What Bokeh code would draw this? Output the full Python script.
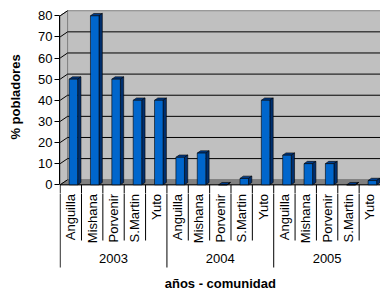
import numpy as np
from bokeh.plotting import figure
from bokeh.models import Range1d, FixedTicker
from bokeh.layouts import column
from bokeh.embed import file_html
from bokeh.resources import INLINE
from bokeh.core.properties import value

# ---- data ----
years = ["2003", "2004", "2005"]
communities = ["Anguilla", "Mishana", "Porvenir", "S.Martin", "Yuto"]
values_2003 = [50, 80, 50, 40, 40]
values_2004 = [13, 15, 0, 3, 40]
values_2005 = [14, 10, 10, 0, 2]
y_ticks = [0, 10, 20, 30, 40, 50, 60, 70, 80]
y_title = "% pobladores"
x_title = "años - comunidad"

FONT = "Liberation Sans"
vals = np.array(values_2003 + values_2004 + values_2005, dtype=float)
labels = communities * len(years)
n = len(vals)
idx = np.arange(n)
ymax = max(y_ticks)

# ---- style / geometry constants ----
DX, DY = 0.35, 2.4          # 3D depth offset (axis units)
SX, SY = 0.155, 1.1         # bar side depth
BL, BR = 0.42, 0.82         # bar front face within category
WALL = "#C0C0C0"
FLOOR = "#808080"
FRONT = "#0066CC"
SIDE = "#002F6E"
TOP = "#003C8A"

x_range = Range1d(-0.03, n)

p1 = figure(width=380, height=193, x_range=x_range, y_range=Range1d(-4.12, 87.24),
            output_backend="svg", toolbar_location=None, x_axis_location=None,
            min_border_left=59, min_border_right=0, min_border_top=0, min_border_bottom=0)
p1.grid.visible = False
p1.outline_line_color = None
p1.background_fill_color = "white"
p1.border_fill_color = "white"

xe = n + 1
# walls and floor
p1.patch([0, DX, DX, 0], [0, DY, ymax + DY, ymax], fill_color=WALL, line_color=FLOOR, line_width=1)
p1.quad(left=[DX], right=[xe], bottom=[DY], top=[ymax + DY], fill_color=WALL, line_color=FLOOR, line_width=1)
p1.patch([0, DX, xe + DX, xe], [0, DY, DY, 0], fill_color=FLOOR, line_color=FLOOR, line_width=1)

gt = np.array(y_ticks[1:-1], dtype=float)
p1.segment(x0=[DX] * len(gt), y0=gt + DY, x1=[xe] * len(gt), y1=gt + DY, line_color="black", line_width=1)
at = np.array(y_ticks, dtype=float)
p1.segment(x0=[0] * len(at), y0=at, x1=[DX] * len(at), y1=at + DY, line_color="black", line_width=1)
p1.segment(x0=[0], y0=[0], x1=[xe], y1=[0], line_color="black", line_width=1)

# bars
l = idx + BL
r = idx + BR
p1.patches([[a, b, b + SX, a + SX] for a, b in zip(l, r)],
           [[v, v, v + SY, v + SY] for v in vals],
           fill_color=TOP, line_color="black", line_width=0.6)
p1.patches([[b, b + SX, b + SX, b] for b in r],
           [[0, SY, v + SY, v] for v in vals],
           fill_color=SIDE, line_color="black", line_width=0.6)
p1.quad(left=l, right=r, bottom=0, top=vals, fill_color=FRONT, line_color="black", line_width=0.6)

# top part of the category separators (continued in the label panel)
k = len(communities)
bounds_all = np.arange(n + 1)
p1.segment(x0=bounds_all, y0=[0] * len(bounds_all), x1=bounds_all, y1=[-10] * len(bounds_all),
           line_color="black", line_width=1)

ax = p1.yaxis[0]
ax.ticker = FixedTicker(ticks=y_ticks)
ax.bounds = (0, ymax)
ax.axis_line_color = "black"
ax.major_tick_line_color = "black"
ax.major_tick_out = 5
ax.major_tick_in = 0
ax.minor_tick_out = 0
ax.minor_tick_in = 0
ax.major_label_standoff = 2
ax.major_label_text_font = FONT
ax.major_label_text_font_size = "13px"
ax.major_label_text_color = "black"
ax.axis_label = y_title
ax.axis_label_text_font = FONT
ax.axis_label_text_font_size = "13px"
ax.axis_label_text_font_style = "bold"
ax.axis_label_text_color = "black"
ax.axis_label_standoff = 12

# ---- category label area ----
p2 = figure(width=380, height=97, x_range=x_range, y_range=Range1d(-97, 0),
            output_backend="svg", toolbar_location=None, x_axis_location=None, y_axis_location=None,
            min_border_left=59, min_border_right=0, min_border_top=0, min_border_bottom=0)
p2.grid.visible = False
p2.outline_line_color = None
p2.background_fill_color = "white"
p2.border_fill_color = "white"

sub_b = [b for b in bounds_all if b % k != 0]
grp_b = [b for b in bounds_all if b % k == 0]
p2.segment(x0=sub_b, y0=[1] * len(sub_b), x1=sub_b, y1=[-47] * len(sub_b), line_color="black", line_width=1)
p2.segment(x0=grp_b, y0=[1] * len(grp_b), x1=grp_b, y1=[-74] * len(grp_b), line_color="black", line_width=1)

p2.text(x=idx + 0.5, y=[-0.5] * n, text=labels, angle=np.pi / 2,
        text_align="right", text_baseline="middle",
        text_font=value(FONT), text_font_size="13px", text_color="black")
gx = np.arange(len(years)) * k + k / 2
p2.text(x=gx, y=[-65] * len(years), text=years, text_align="center", text_baseline="middle",
        text_font=value(FONT), text_font_size="13px", text_color="black")
p2.text(x=[n / 2], y=[-90], text=[x_title], text_align="center", text_baseline="middle",
        text_font=value(FONT), text_font_size="13px", text_font_style="bold", text_color="black")

layout = column(p1, p2, spacing=0)
open("out.html", "w").write(file_html(layout, INLINE))
